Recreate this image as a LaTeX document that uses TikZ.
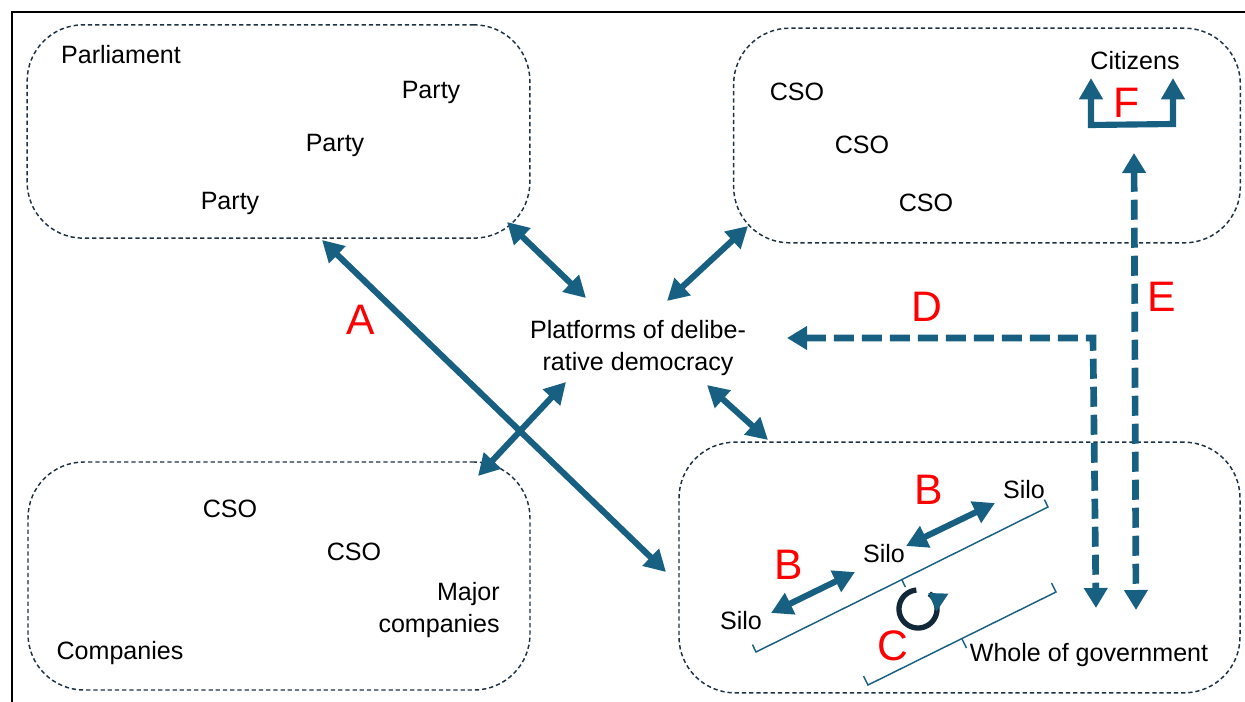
\documentclass[tikz,border=0pt]{standalone}
\usepackage{fontspec}
\setmainfont{Liberation Sans}
\usetikzlibrary{arrows.meta,calc}
\definecolor{arr}{RGB}{24,96,130}
\definecolor{boxc}{RGB}{28,50,68}
\definecolor{circc}{RGB}{16,40,56}
\begin{document}
\begin{tikzpicture}[x=0.75pt,y=-0.75pt,
  txt/.style={font=\fontsize{18.8}{24}\selectfont, inner sep=0pt, align=center},
  lab/.style={font=\fontsize{32}{36}\selectfont, text=red, inner sep=0pt},
  grp/.style={draw=boxc, dash pattern=on 3.2pt off 2.2pt, line width=1.1pt, rounded corners=42pt, rectangle, inner sep=0pt},
  dbl/.style={draw=arr, line width=4.6pt, {Triangle[length=16pt,width=17pt]}-{Triangle[length=16pt,width=17pt]}},
  dsh/.style={draw=arr, line width=5pt, dash pattern=on 15pt off 6pt, {Triangle[length=15pt,width=17pt]}-{Triangle[length=15pt,width=17pt]}},
  brk/.style={draw=arr, line width=1.1pt},
  frame/.style={draw=black, line width=2pt}
]
\useasboundingbox (0,0) rectangle (1245,702);
% frame
\coordinate (f1) at (12,702);
\coordinate (f2) at (12,12);
\coordinate (f3) at (1245,12);
\draw[frame] (f1) -- (f2) -- (f3);

% group boxes
\node[grp, minimum width=377pt, minimum height=160pt] (parl) at (278.5,131.5) {};
\node[grp, minimum width=380pt, minimum height=161pt] (civ) at (987,135.5) {};
\node[grp, minimum width=376.5pt, minimum height=171pt] (comp) at (279,576) {};
\node[grp, minimum width=420.75pt, minimum height=188pt] (gov) at (959.5,567.5) {};

% texts
\node[txt] (parlt) at (121,55) {Parliament};
\node[txt] (p1) at (431,92) {Party};
\node[txt] (p2) at (335,145) {Party};
\node[txt] (p3) at (230,203) {Party};
\node[txt] (c1) at (797,92) {CSO};
\node[txt] (c2) at (862,145) {CSO};
\node[txt] (c3) at (926,203) {CSO};
\node[txt] (cit) at (1135,61) {Citizens};
\node[txt] (plat) at (638,348) {Platforms of delibe-\\rative democracy};
\node[txt] (bc1) at (230,509) {CSO};
\node[txt] (bc2) at (354,552) {CSO};
\node[txt, align=right, anchor=east] (maj) at (500,610) {Major\\companies};
\node[txt] (compt) at (120,653) {Companies};
\node[txt] (s1) at (1024,490) {Silo};
\node[txt] (s2) at (884,554) {Silo};
\node[txt] (s3) at (741,621) {Silo};
\node[txt] (wog) at (1089,655) {Whole of government};

% red labels
\node[lab] (lA) at (361,320) {A};
\node[lab] (lB1) at (929,490) {B};
\node[lab] (lB2) at (789,565) {B};
\node[lab] (lC) at (893,646) {C};
\node[lab] (lD) at (927,307) {D};
\node[lab] (lE) at (1162,297) {E};
\node[lab] (lF) at (1127,103) {F};

% arrow end points
\coordinate (a1) at (322,240);
\coordinate (a2) at (666,572);
\coordinate (pa) at (507,222);
\coordinate (pb) at (586,298);
\coordinate (ca) at (748,226);
\coordinate (cb) at (667,301);
\coordinate (ba) at (478,476);
\coordinate (bb) at (566,382);
\coordinate (ga) at (707,385);
\coordinate (gb) at (768,440);
\coordinate (d1) at (787,338);
\coordinate (d2) at (1093,338);
\coordinate (d3) at (1096,608);
\coordinate (e1) at (1134,153);
\coordinate (e2) at (1136,610);
\coordinate (fa) at (1091,78);
\coordinate (fb) at (1091,125);
\coordinate (fc) at (1173,124);
\coordinate (fd) at (1173,78);
\coordinate (sb1) at (995,503);
\coordinate (sb2) at (906,546);
\coordinate (sc1) at (855,572);
\coordinate (sc2) at (771,613);

\draw[dbl] (a1) -- (a2);
\draw[dbl] (pa) -- (pb);
\draw[dbl] (ca) -- (cb);
\draw[dbl] (ba) -- (bb);
\draw[dbl] (ga) -- (gb);
\draw[dbl] (sb1) -- (sb2);
\draw[dbl] (sc1) -- (sc2);
\draw[dsh] (d1) -- (d2) -- (d3);
\draw[dsh] (e1) -- (e2);
\draw[draw=arr, line width=4.6pt, line join=miter, {Triangle[length=16pt,width=17pt]}-{Triangle[length=16pt,width=17pt]}] (fa) -- (fb) -- (fc) -- (fd);

% brackets
\coordinate (k1) at (756,652);
\coordinate (k2) at (1048,507);
\coordinate (km) at (902,580);
\draw[brk] ($(k1)+(-3.6,-7.4)$) -- (k1) -- (k2) -- ($(k2)+(-3.6,-7.4)$);
\draw[brk] (km) -- ($(km)+(3.3,7)$);
\coordinate (m1) at (868,685);
\coordinate (m2) at (1056,592);
\coordinate (mm) at (962,639);
\draw[brk] ($(m1)+(-4.5,-9)$) -- (m1) -- (m2) -- ($(m2)+(-4.5,-9)$);
\draw[brk] (mm) -- ($(mm)+(4.5,9)$);

% circular arrow C
\draw[draw=circc, line width=4pt, -{Triangle[length=13pt,width=15pt,color=arr]}]
  plot[domain=95:418, samples=60, smooth] ({918+19*cos(\x)},{609-19*sin(\x)});
\end{tikzpicture}
\end{document}
